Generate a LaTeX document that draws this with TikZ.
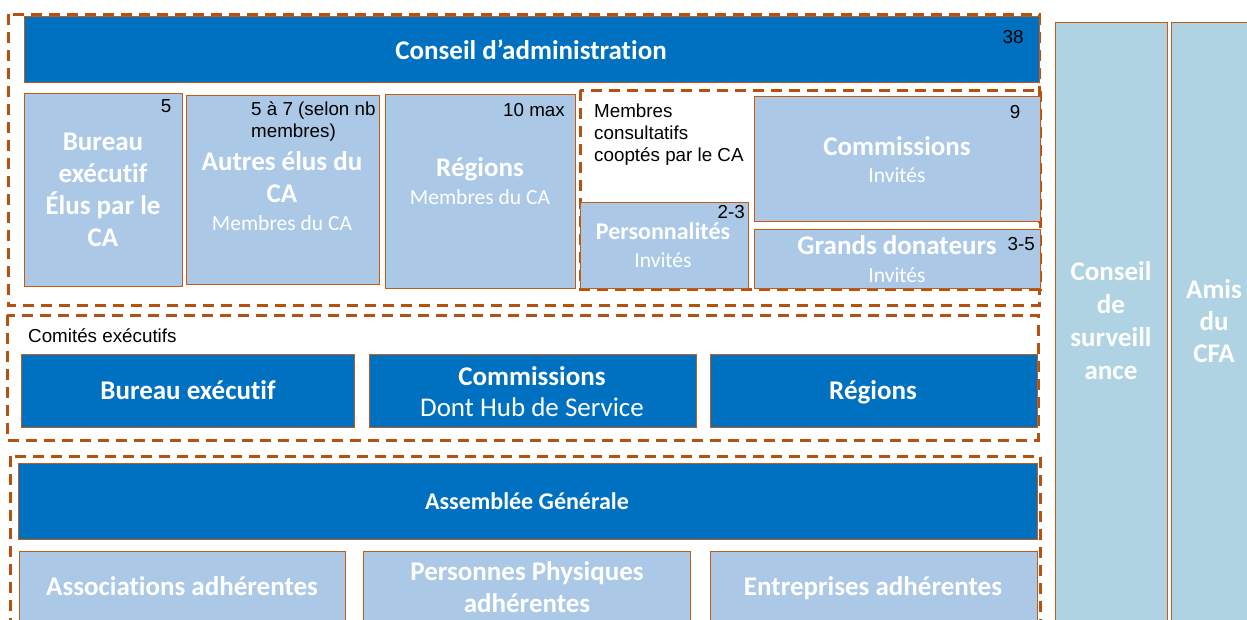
\documentclass[tikz,border=0pt]{standalone}
\usepackage{fontspec}
\setmainfont{Carlito}[Ligatures=NoCommon]
\newfontfamily\arialf{Liberation Sans}
\definecolor{darkb}{HTML}{0070C0}
\definecolor{lightb}{HTML}{ABC9E6}
\definecolor{sideb}{HTML}{B0D3E3}
\definecolor{bordc}{HTML}{C55A11}
\definecolor{dashc}{HTML}{B5520F}
\begin{document}
\begin{tikzpicture}[x=1pt,y=-1pt,
  darkbox/.style={draw=bordc, line width=0.8pt, fill=darkb, anchor=north west, inner sep=0pt},
  lightbox/.style={draw=bordc, line width=0.8pt, fill=lightb, anchor=north west, inner sep=0pt},
  sidebox/.style={draw=bordc, line width=0.8pt, fill=sideb, anchor=north west, inner sep=0pt},
  dashbox/.style={draw=dashc, line width=3pt, dash pattern=on 11pt off 7pt},
  ttl/.style={text=white, font=\bfseries\fontsize{27}{32}\selectfont, align=center, inner sep=0pt},
  ttlm/.style={text=white, font=\bfseries\fontsize{27}{32}\selectfont, align=center, inner sep=0pt},
  sub/.style={text=white, font=\fontsize{21.5}{25}\selectfont, align=center, inner sep=0pt},
  subm/.style={text=white, font=\fontsize{27}{31}\selectfont, align=center, inner sep=0pt},
  num/.style={text=black, font=\arialf\fontsize{18.8}{22}\selectfont, inner sep=0pt, align=left}]
\useasboundingbox (0,0) rectangle (1247,619);
\fill[white] (0,0) rectangle (1247,619);

% side columns
\node[sidebox, minimum width=112pt, minimum height=600pt] (cs) at (1055,22) {};
\node[sidebox, minimum width=90pt, minimum height=600pt] (amis) at (1171,22) {};
\node[ttl, font=\bfseries\fontsize{27}{33}\selectfont] (cst) at (1111,321) {Conseil\\de\\surveill\\ance};
\node[ttl] (amist) at (1214,321) {Amis\\du\\CFA};

% block 1
\draw[dashbox] (8,14) rectangle (1039,305);
\node[darkbox, minimum width=1015pt, minimum height=66pt] (ca) at (24,16) {};
\node[ttl] (cat) at (531,50) {Conseil d’administration};
\node[num] (ca38) at (1013,37) {38};

\node[lightbox, minimum width=158pt, minimum height=193pt] (be) at (24,93) {};
\node[ttl] (bet) at (103,190) {Bureau\\exécutif\\Élus par le\\CA};
\node[num] (be5) at (166,106) {5};

\node[lightbox, minimum width=193pt, minimum height=189pt] (ae) at (186,95) {};
\node[num, anchor=west] (aen) at (251,122) {5 à 7 (selon nb\\membres)};
\node[ttl] (aet) at (282,177) {Autres élus du\\CA};
\node[sub] (aes) at (282,223) {Membres du CA};

\node[lightbox, minimum width=190pt, minimum height=194pt] (re) at (385,94) {};
\node[num, anchor=east] (ren) at (565,110) {10 max};
\node[ttl] (ret) at (480,169) {Régions};
\node[sub] (res) at (480,197) {Membres du CA};

\draw[dashbox] (580,90) rectangle (1040,289);
\node[num, anchor=west] (mct) at (594,135) {Membres\\consultatifs\\cooptés par le CA};

\node[lightbox, minimum width=168pt, minimum height=86pt] (pe) at (580,202) {};
\node[num, anchor=east] (pen) at (745,212) {2-3};
\node[ttl, font=\bfseries\fontsize{24}{28}\selectfont] (pet) at (663,231) {Personnalités};
\node[sub] (pes) at (663,260) {Invités};

\node[lightbox, minimum width=286pt, minimum height=125pt] (co) at (754,96) {};
\node[num] (con) at (1015,112) {9};
\node[ttl] (cot) at (897,146) {Commissions};
\node[sub] (cos) at (897,175) {Invités};

\node[lightbox, minimum width=286pt, minimum height=59pt] (gd) at (754,229) {};
\node[num, anchor=east] (gdn) at (1035,244) {3-5};
\node[ttl] (gdt) at (897,245) {Grands donateurs};
\node[sub] (gds) at (897,275) {Invités};

% block 2
\draw[dashbox] (7,315) rectangle (1038,440);
\node[num, anchor=west] (cet) at (28,336) {Comités exécutifs};
\node[darkbox, minimum width=333pt, minimum height=73pt] (dbe) at (21,354) {};
\node[ttlm] (dbet) at (188,390) {Bureau exécutif};
\node[darkbox, minimum width=327pt, minimum height=73pt] (dco) at (369,354) {};
\node[ttlm] (dcot) at (532,376) {Commissions};
\node[subm] (dcos) at (532,407) {Dont Hub de Service};
\node[darkbox, minimum width=327pt, minimum height=73pt] (dre) at (710,354) {};
\node[ttlm] (dret) at (873,392) {Régions};

% block 3
\draw[dashbox] (10,456) rectangle (1040,640);
\node[darkbox, minimum width=1019pt, minimum height=76pt] (ag) at (18,463) {};
\node[ttl, font=\bfseries\fontsize{24}{28}\selectfont] (agt) at (527,501) {Assemblée Générale};
\node[lightbox, minimum width=326pt, minimum height=80pt] (as) at (19,551) {};
\node[ttlm] (ast) at (182,586) {Associations adhérentes};
\node[lightbox, minimum width=327pt, minimum height=80pt] (pp) at (363,551) {};
\node[ttlm] (ppt) at (527,587) {Personnes Physiques\\adhérentes};
\node[lightbox, minimum width=327pt, minimum height=80pt] (en) at (710,551) {};
\node[ttlm] (ent) at (873,588) {Entreprises adhérentes};
\end{tikzpicture}
\end{document}
